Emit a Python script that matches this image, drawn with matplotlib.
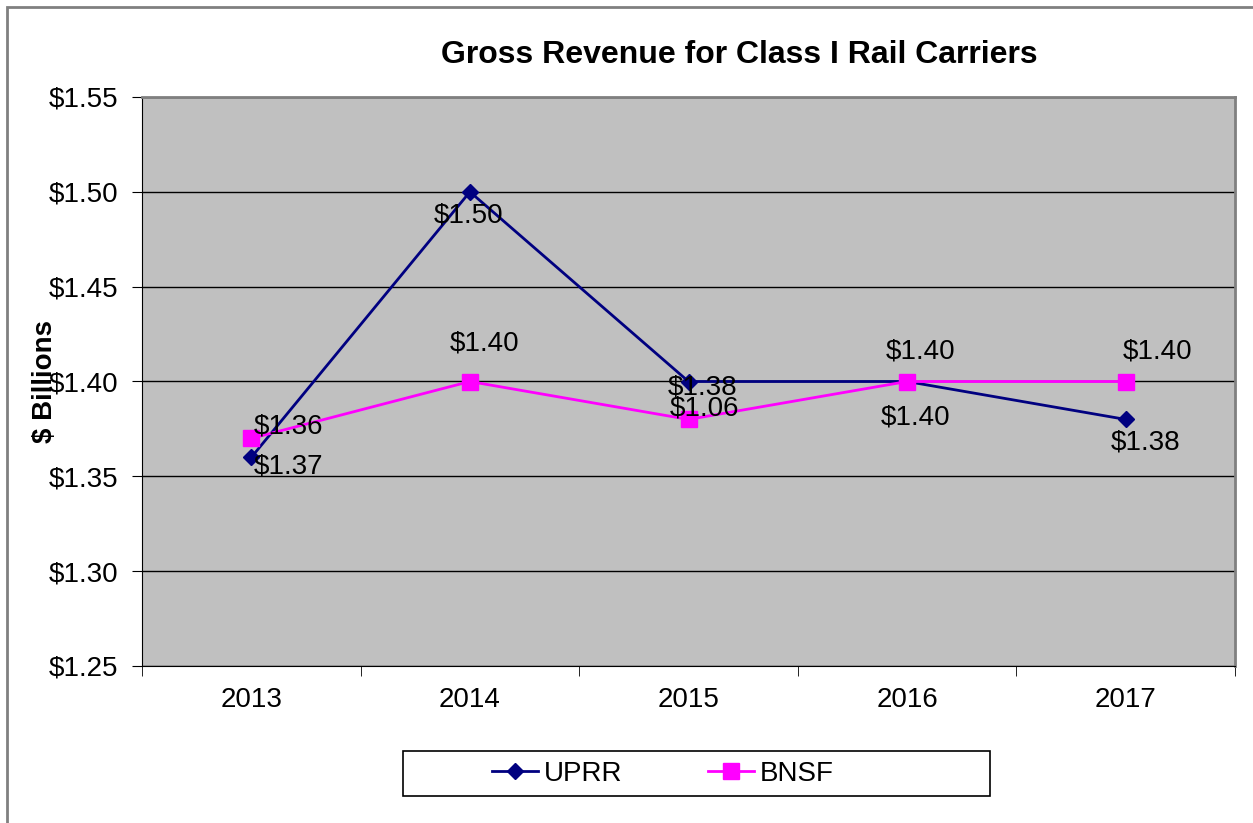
import numpy as np
import matplotlib.pyplot as plt
from matplotlib.patches import Rectangle

# Data
years = ["2013", "2014", "2015", "2016", "2017"]
uprr = [1.36, 1.50, 1.40, 1.40, 1.38]
bnsf = [1.37, 1.40, 1.38, 1.40, 1.40]

# data label texts as they appear on the chart
uprr_labels = ["$1.37", "$1.50", "$1.38", "$1.40", "$1.38"]
bnsf_labels = ["$1.36", "$1.40", "$1.06", "$1.40", "$1.40"]

# label offsets (x in categories, y in data units) from each point
uprr_off = [(0.17, -0.005), (-0.005, -0.0127), (0.064, -0.0034), (0.037, -0.0192), (0.091, -0.0124)]
bnsf_off = [(0.17, 0.0065), (0.065, 0.0198), (0.073, 0.006), (0.06, 0.0156), (0.146, 0.0156)]

plt.rcParams['font.family'] = ['Liberation Sans', 'DejaVu Sans']
FS = 20

W, H = 1253, 823
fig = plt.figure(figsize=(W / 100, H / 100), dpi=100)
ax = fig.add_axes([142/W, 1 - 666/H, (1235 - 142)/W, (666 - 97)/H])

# outer chart frame (cut off on right and bottom)
fig.patches.append(Rectangle((7/W, -0.1), 1.2, (H - 7)/H + 0.1, transform=fig.transFigure,
                             fill=False, edgecolor='#808080', linewidth=2))
# legend box
fig.patches.append(Rectangle((403/W, 1 - 796/H), (990 - 403)/W, (796 - 751)/H,
                             transform=fig.transFigure, fill=False, edgecolor='black',
                             linewidth=1.2, zorder=5))

x = np.arange(len(years))
ax.set_facecolor('#C0C0C0')
ax.plot(x, uprr, color='#000080', lw=2, marker='D', markersize=8, label='UPRR', zorder=3)
ax.plot(x, bnsf, color='#FF00FF', lw=2, marker='s', markersize=11, label='BNSF', zorder=3)

for i in range(len(years)):
    ax.text(x[i] + uprr_off[i][0], uprr[i] + uprr_off[i][1], uprr_labels[i],
            ha='center', va='center', fontsize=FS, zorder=4)
    ax.text(x[i] + bnsf_off[i][0], bnsf[i] + bnsf_off[i][1], bnsf_labels[i],
            ha='center', va='center', fontsize=FS, zorder=4)

ax.set_xlim(-0.5, len(years) - 0.5)
ax.set_ylim(1.25, 1.55)
yt = np.arange(1.25, 1.5501, 0.05)
ax.set_yticks(yt)
ax.set_yticklabels([f"${v:.2f}" for v in yt], fontsize=FS)
ax.yaxis.grid(True, color='black', lw=1)
ax.set_axisbelow(True)

ax.set_xticks(x)
ax.set_xticklabels(years, fontsize=FS)
ax.set_xticks(np.arange(-0.5, len(years)), minor=True)
ax.tick_params(axis='x', which='major', length=0, pad=15)
ax.tick_params(axis='x', which='minor', length=7, color='black')
ax.tick_params(axis='y', length=7, pad=10)

for s in ['top', 'right']:
    ax.spines[s].set_color('#808080')
    ax.spines[s].set_linewidth(2)
ax.spines['left'].set_color('black')
ax.spines['bottom'].set_color('black')

ax.set_ylabel("$ Billions", fontsize=FS, fontweight='bold')
ax.yaxis.set_label_coords(-84/1093, 0.5)
fig.text(739/W, 1 - 55/H, "Gross Revenue for Class I Rail Carriers",
         ha='center', va='center', fontsize=23, fontweight='bold')

leg = fig.legend(loc='center left', bbox_to_anchor=(492/W, 1 - 774/H), ncol=2, fontsize=FS,
                 frameon=False, borderpad=0, borderaxespad=0,
                 columnspacing=3.1, handlelength=1.65, handletextpad=0.2)

fig.savefig("out.png", dpi=100)
